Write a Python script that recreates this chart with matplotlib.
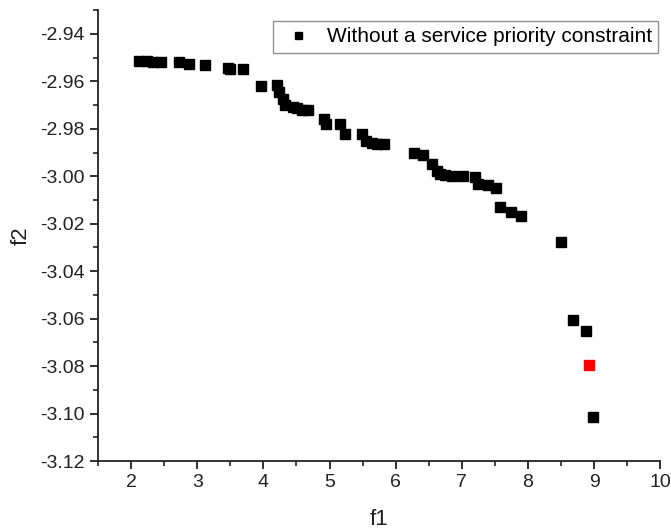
import numpy as np
import matplotlib
matplotlib.use("Agg")
import matplotlib.pyplot as plt
from matplotlib.ticker import MultipleLocator, FormatStrFormatter

plt.rcParams['font.family'] = ['Liberation Sans', 'DejaVu Sans']

# Pareto front points
f1 = [2.12, 2.24, 2.33, 2.45, 2.73, 2.88, 3.12, 3.47, 3.50, 3.69,
      3.97, 4.21, 4.24, 4.29, 4.33, 4.45, 4.51, 4.58, 4.68, 4.91,
      4.95, 5.16, 5.24, 5.49, 5.55, 5.64, 5.72, 5.83, 6.27, 6.41,
      6.55, 6.62, 6.67, 6.75, 6.85, 7.02, 7.20, 7.25, 7.40, 7.52,
      7.57, 7.74, 7.89, 8.50, 8.68, 8.88, 8.99]
f2 = [-2.9515, -2.9516, -2.9517, -2.9518, -2.9520, -2.9526, -2.9530, -2.9545, -2.9550, -2.9550,
      -2.9620, -2.9615, -2.9646, -2.9675, -2.9702, -2.9710, -2.9712, -2.9720, -2.9720, -2.9760,
      -2.9778, -2.9780, -2.9820, -2.9820, -2.9850, -2.9862, -2.9866, -2.9866, -2.9900, -2.9912,
      -2.9947, -2.9976, -2.9990, -2.9994, -2.9997, -3.0000, -3.0004, -3.0032, -3.0039, -3.0048,
      -3.0130, -3.0151, -3.0169, -3.0277, -3.0604, -3.0653, -3.1014]
# highlighted solution
sel_f1 = [8.93]
sel_f2 = [-3.0797]

fig = plt.figure(figsize=(6.71, 5.30), dpi=100)
ax = fig.add_axes([0.146, 0.130, 0.838, 0.851])

ax.plot(f1, f2, 's', color='black', markersize=7.2, linestyle='none',
        label='Without a service priority constraint')
ax.plot(sel_f1, sel_f2, 's', color='red', markersize=7.2, linestyle='none')

ax.set_xlim(1.5, 10)
ax.set_ylim(-3.12, -2.93)
ax.xaxis.set_major_locator(MultipleLocator(1))
ax.xaxis.set_minor_locator(MultipleLocator(0.5))
ax.yaxis.set_major_locator(MultipleLocator(0.02))
ax.yaxis.set_minor_locator(MultipleLocator(0.01))
ax.yaxis.set_major_formatter(FormatStrFormatter('%.2f'))
ax.set_xticks(np.arange(2, 11, 1))

ax.spines['top'].set_visible(False)
ax.spines['right'].set_visible(False)
for s in ['left', 'bottom']:
    ax.spines[s].set_linewidth(1.3)
    ax.spines[s].set_color('#222222')
ax.tick_params(which='major', direction='out', length=6, width=1.3, labelsize=14, colors='#222222')
ax.tick_params(which='minor', direction='out', length=3.5, width=1.2, colors='#222222')

ax.set_xlabel('f1', fontsize=16, color='#222222', labelpad=13)
ax.set_ylabel('f2', fontsize=16, color='#222222', labelpad=6)

leg = ax.legend(loc='upper right', bbox_to_anchor=(0.9964, 0.9756), borderaxespad=0,
                fontsize=15, frameon=True, fancybox=False, markerscale=0.7,
                handletextpad=0.5, borderpad=0.3, handlelength=1.8)
leg.get_frame().set_edgecolor('#777777')
leg.get_frame().set_linewidth(1.0)

fig.savefig('out.png', dpi=100)
